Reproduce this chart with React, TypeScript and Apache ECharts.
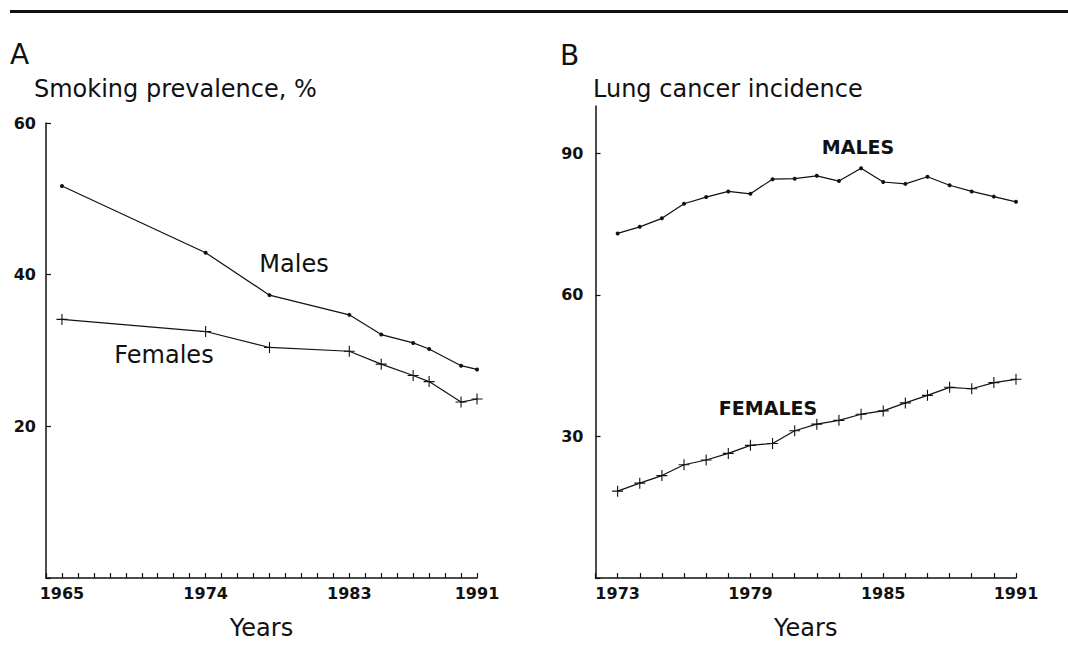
import React, { useEffect, useRef } from "react";
import * as echarts from "echarts";

// Panel A: smoking prevalence, %
const yearsA = [1965, 1974, 1978, 1983, 1985, 1987, 1988, 1990, 1991];
const malesA = [51.7, 42.9, 37.3, 34.7, 32.1, 31.0, 30.2, 28.0, 27.5];
const femalesA = [34.1, 32.5, 30.4, 29.9, 28.2, 26.7, 25.9, 23.2, 23.6];
const tickLabelsA = [1965, 1974, 1983, 1991];

// Panel B: lung cancer incidence
const yearsB = [1973, 1974, 1975, 1976, 1977, 1978, 1979, 1980, 1981, 1982, 1983, 1984, 1985, 1986, 1987, 1988, 1989, 1990, 1991];
const malesB = [73.0, 74.4, 76.2, 79.3, 80.7, 81.9, 81.4, 84.5, 84.6, 85.2, 84.1, 86.8, 83.9, 83.5, 85.0, 83.2, 81.9, 80.8, 79.7];
const femalesB = [18.4, 20.1, 21.7, 24.0, 25.0, 26.4, 28.1, 28.5, 31.2, 32.6, 33.4, 34.7, 35.4, 37.1, 38.7, 40.4, 40.1, 41.4, 42.1];
const tickLabelsB = [1973, 1979, 1985, 1991];
const yLabelsA = [20, 40, 60];
const yLabelsB = [30, 60, 90];

const FONT = "'DejaVu Sans', sans-serif";
const INK = "#111";
const PLUS = "path://M-1,-0.1H1V0.1H-1Z M-0.1,-1H0.1V1H-0.1Z";

export default function App() {
  const ref = useRef<HTMLDivElement>(null);
  useEffect(() => {
    if (!ref.current) return;
    const chart = echarts.init(ref.current, null, { renderer: "svg" });
    const axisLine = { show: true, lineStyle: { color: INK, width: 1.5 } };
    const tick = { show: true, inside: true, length: 5, lineStyle: { color: INK, width: 1.2 } };
    const label = { color: INK, fontFamily: FONT, fontSize: 16, fontWeight: "bold" };
    const nameStyle = { color: INK, fontFamily: FONT, fontSize: 24 };
    const lineStyle = { color: INK, width: 1.2 };
    const text = (t: string, x: number, y: number, size: number, align = "center", weight = "normal") => ({
      type: "text",
      x,
      y,
      silent: true,
      style: { text: t, fill: INK, fontFamily: FONT, fontSize: size, fontWeight: weight, align, verticalAlign: "middle" },
    });
    chart.setOption({
      animation: false,
      backgroundColor: "#fff",
      grid: [
        { left: 46, top: 123, width: 431, height: 455 },
        { left: 595.5, top: 106, width: 420.5, height: 472 },
      ],
      xAxis: [
        {
          gridIndex: 0, type: "value", min: 1964, max: 1991, interval: 1,
          axisLine, axisTick: tick, splitLine: { show: false },
          axisLabel: { ...label, margin: 7, showMinLabel: true, showMaxLabel: true,
            formatter: (v: number) => (tickLabelsA.includes(v) ? String(v) : "") },
          name: "Years", nameLocation: "middle", nameGap: 38, nameTextStyle: nameStyle,
        },
        {
          gridIndex: 1, type: "value", min: 1972, max: 1991, interval: 1,
          axisLine, axisTick: tick, splitLine: { show: false },
          axisLabel: { ...label, margin: 7, showMinLabel: true, showMaxLabel: true,
            formatter: (v: number) => (tickLabelsB.includes(v) ? String(v) : "") },
          name: "Years", nameLocation: "middle", nameGap: 38, nameTextStyle: nameStyle,
        },
      ],
      yAxis: [
        {
          gridIndex: 0, type: "value", min: 0, max: 60, interval: 20,
          axisLine, axisTick: tick, splitLine: { show: false },
          axisLabel: { ...label, margin: 10, formatter: (v: number) => (yLabelsA.includes(v) ? String(v) : "") },
        },
        {
          gridIndex: 1, type: "value", min: 0, max: 100, interval: 30,
          axisLine, axisTick: { ...tick, customValues: [0, 30, 60, 90] }, splitLine: { show: false },
          axisLabel: { ...label, margin: 12, formatter: (v: number) => (yLabelsB.includes(v) ? String(v) : "") },
        },
      ],
      series: [
        {
          name: "Males", type: "line", xAxisIndex: 0, yAxisIndex: 0,
          data: yearsA.map((y, i) => [y, malesA[i]]),
          symbol: "circle", symbolSize: 4, itemStyle: { color: INK }, lineStyle,
        },
        {
          name: "Females", type: "line", xAxisIndex: 0, yAxisIndex: 0,
          data: yearsA.map((y, i) => [y, femalesA[i]]),
          symbol: PLUS, symbolSize: 11, itemStyle: { color: INK }, lineStyle,
        },
        {
          name: "MALES", type: "line", xAxisIndex: 1, yAxisIndex: 1,
          data: yearsB.map((y, i) => [y, malesB[i]]),
          symbol: "circle", symbolSize: 4, itemStyle: { color: INK }, lineStyle,
        },
        {
          name: "FEMALES", type: "line", xAxisIndex: 1, yAxisIndex: 1,
          data: yearsB.map((y, i) => [y, femalesB[i]]),
          symbol: PLUS, symbolSize: 11, itemStyle: { color: INK }, lineStyle,
        },
      ],
      graphic: [
        { type: "rect", silent: true, shape: { x: 10, y: 10, width: 1058, height: 3 }, style: { fill: INK } },
        text("A", 10, 54, 28, "left"),
        text("B", 560, 55, 28, "left"),
        text("Smoking prevalence, %", 34, 89, 24, "left"),
        text("Lung cancer incidence", 593, 89, 24, "left"),
        text("Males", 294, 264, 24),
        text("Females", 164, 355, 24),
        text("MALES", 858, 147, 19, "center", "bold"),
        text("FEMALES", 768, 408, 19, "center", "bold"),
      ],
    });
    return () => chart.dispose();
  }, []);
  return <div ref={ref} style={{ position: "fixed", left: 0, top: 0, width: 1068, height: 661 }} />;
}
